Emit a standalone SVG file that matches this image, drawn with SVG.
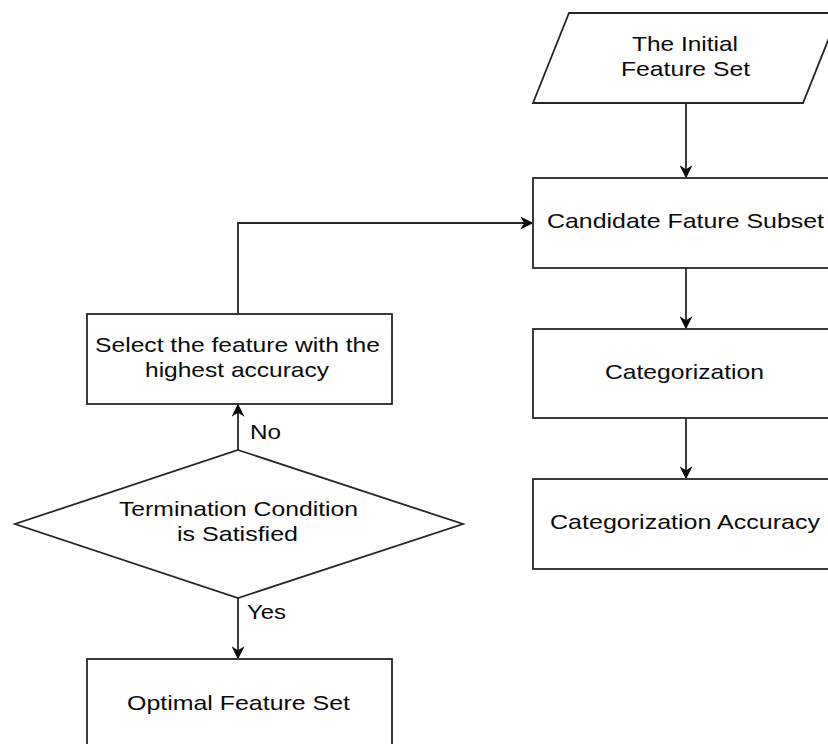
<svg xmlns="http://www.w3.org/2000/svg" width="828" height="744" viewBox="0 0 828 744">
<style>
.shape{fill:#fff;stroke:#262626;stroke-width:1.8}
.edge{fill:none;stroke:#262626;stroke-width:1.8}
text{font-family:"Liberation Sans",Arial,sans-serif;font-size:21px;fill:#0a0a0a;text-anchor:middle}
.lbl{text-anchor:start}
</style>
<defs>
<marker id="arr" viewBox="0 0 10 10" refX="9" refY="5" markerWidth="13" markerHeight="13" markerUnits="userSpaceOnUse" orient="auto">
<path d="M0,0 L10,5 L0,10 L3,5 Z" fill="#0a0a0a"/>
</marker>
</defs>
<rect width="828" height="744" fill="#fff"/>
<g id="connectors">
<path class="edge" d="M686,103 V177" marker-end="url(#arr)"/>
<path class="edge" d="M686,268 V328" marker-end="url(#arr)"/>
<path class="edge" d="M686,418 V478" marker-end="url(#arr)"/>
<path class="edge" d="M238,450 V405" marker-end="url(#arr)"/>
<path class="edge" d="M238,314 V223 H532" marker-end="url(#arr)"/>
<path class="edge" d="M238,598 V658" marker-end="url(#arr)"/>
<text class="lbl" x="250" y="439" textLength="31" lengthAdjust="spacingAndGlyphs">No</text>
<text class="lbl" x="247" y="619" textLength="39" lengthAdjust="spacingAndGlyphs">Yes</text>
</g>
<g id="initial">
<polygon class="shape" points="569,13 839,13 803,103 533,103"/>
<text x="685" y="51" textLength="106" lengthAdjust="spacingAndGlyphs">The Initial</text>
<text x="685.5" y="76" textLength="129" lengthAdjust="spacingAndGlyphs">Feature Set</text>
</g>
<g id="candidate">
<rect class="shape" x="533" y="178" width="306" height="90"/>
<text x="685.5" y="228" textLength="277" lengthAdjust="spacingAndGlyphs">Candidate Fature Subset</text>
</g>
<g id="categorization">
<rect class="shape" x="533" y="329" width="306" height="89"/>
<text x="684.5" y="379" textLength="159" lengthAdjust="spacingAndGlyphs">Categorization</text>
</g>
<g id="accuracy">
<rect class="shape" x="533" y="479" width="306" height="90"/>
<text x="685" y="529" textLength="270" lengthAdjust="spacingAndGlyphs">Categorization Accuracy</text>
</g>
<g id="select">
<rect class="shape" x="87" y="314" width="305" height="90"/>
<text x="237.5" y="352" textLength="285" lengthAdjust="spacingAndGlyphs">Select the feature with the</text>
<text x="237" y="377" textLength="184" lengthAdjust="spacingAndGlyphs">highest accuracy</text>
</g>
<g id="termination">
<polygon class="shape" points="238,450 463,524 238,598 15,524"/>
<text x="238.5" y="516" textLength="239" lengthAdjust="spacingAndGlyphs">Termination Condition</text>
<text x="237.5" y="541" textLength="121" lengthAdjust="spacingAndGlyphs">is Satisfied</text>
</g>
<g id="optimal">
<rect class="shape" x="87" y="659" width="305" height="90"/>
<text x="238.5" y="710" textLength="223" lengthAdjust="spacingAndGlyphs">Optimal Feature Set</text>
</g>
</svg>
